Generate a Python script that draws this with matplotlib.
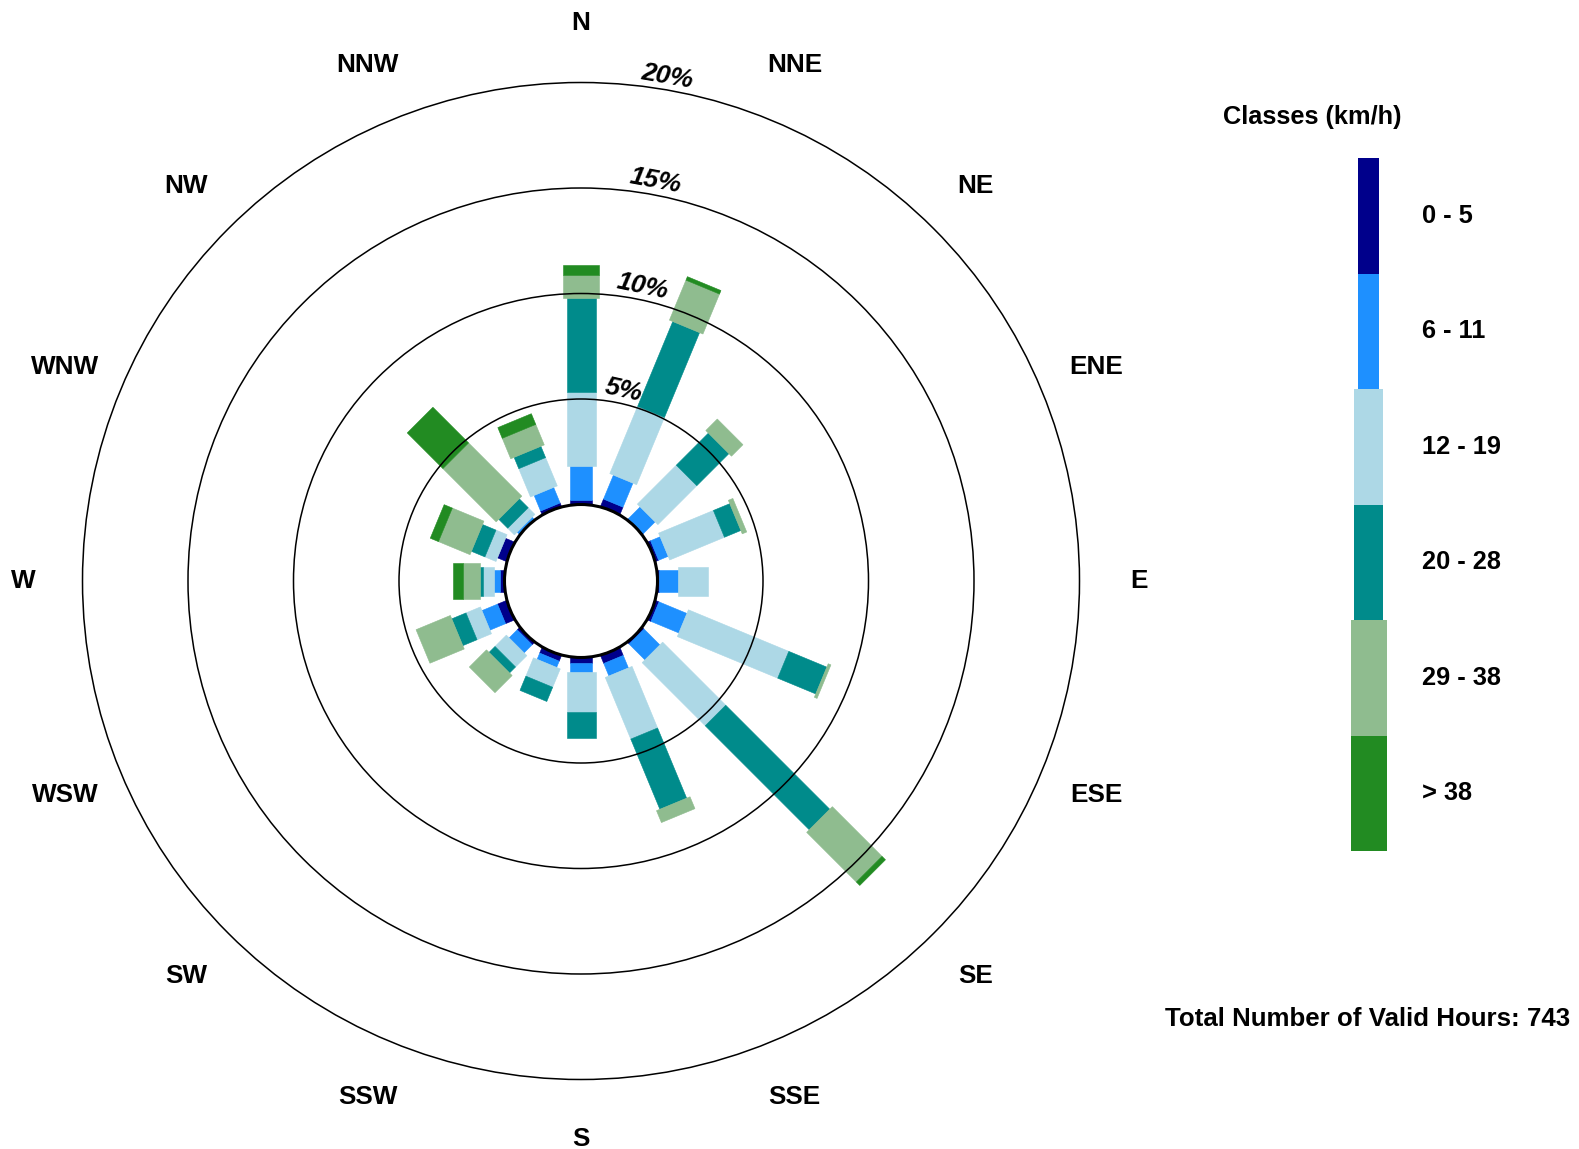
import numpy as np
import matplotlib
matplotlib.use("Agg")
import matplotlib.pyplot as plt
from matplotlib.patches import Polygon, Circle

plt.rcParams['font.family'] = ['Liberation Sans', 'DejaVu Sans']

# wind directions (clockwise from north)
directions = ['N', 'NNE', 'NE', 'ENE', 'E', 'ESE', 'SE', 'SSE',
              'S', 'SSW', 'SW', 'WSW', 'W', 'WNW', 'NW', 'NNW']

# frequency (%) per speed class
speed_0_5 = [0.20, 0.37, 0.05, 0.15, 0.09, 0.17, 0.10, 0.40,
             0.27, 0.28, 0.15, 0.45, 0.21, 0.45, 0.00, 0.17]
speed_6_11 = [1.62, 1.23, 0.79, 0.49, 0.87, 1.43, 1.06, 0.64,
              0.40, 0.32, 0.54, 0.80, 0.29, 0.00, 0.15, 0.80]
speed_12_19 = [3.53, 3.45, 2.61, 2.81, 1.42, 5.15, 4.23, 3.16,
               1.90, 0.94, 0.76, 0.74, 0.50, 0.57, 0.45, 1.45]
speed_20_28 = [4.42, 4.35, 2.15, 0.84, 0.00, 1.95, 6.97, 3.60,
               1.26, 0.73, 0.40, 0.73, 0.16, 0.69, 0.60, 0.58]
speed_29_38 = [1.11, 2.05, 0.77, 0.23, 0.00, 0.14, 3.33, 0.61,
               0.00, 0.00, 1.15, 1.76, 0.82, 1.62, 3.57, 1.05]
speed_gt_38 = [0.47, 0.18, 0.00, 0.00, 0.00, 0.00, 0.23, 0.00,
               0.00, 0.00, 0.00, 0.00, 0.47, 0.42, 2.39, 0.55]

class_labels = ['0 - 5', '6 - 11', '12 - 19', '20 - 28', '29 - 38', '> 38']
class_colors = ['#00008B', '#1E90FF', '#ADD8E6', '#008B8B', '#8FBC8F', '#228B22']
ring_values = [5, 10, 15, 20]
valid_hours = 743

speeds = np.array([speed_0_5, speed_6_11, speed_12_19,
                   speed_20_28, speed_29_38, speed_gt_38])
angles = np.arange(len(directions)) * 22.5

# layout (pixels of the 1579x1149 figure)
W, H = 1579, 1149
px = 21.1            # pixels per percent
cx, cy = 581, 581    # centre of the rose
r0 = 76.5 / px       # radius of the empty centre
bar_w = [21.1, 21.1, 29, 29, 36.3, 36.3]   # bar widths in pixels per class

fig = plt.figure(figsize=(W / 100, H / 100), dpi=100)
L = 27.5
ax = fig.add_axes([(cx - L * px) / W, (H - cy - L * px) / H,
                   2 * L * px / W, 2 * L * px / H])
ax.set_xlim(-L, L)
ax.set_ylim(-L, L)
ax.axis('off')


def bar_polygon(theta, r1, r2, width):
    t = np.radians(theta)
    hw = width / 2
    pts = [(r1, -hw), (r2, -hw), (r2, hw), (r1, hw)]
    return [(u * np.sin(t) + v * np.cos(t), u * np.cos(t) - v * np.sin(t))
            for u, v in pts]


for d, theta in enumerate(angles):
    start = r0
    for k in range(len(class_labels)):
        val = speeds[k, d]
        if val <= 0:
            continue
        r1 = start if k > 0 else r0 - 0.6
        r2 = start + val
        ax.add_patch(Polygon(bar_polygon(theta, r1, r2, bar_w[k] / px),
                             closed=True, facecolor=class_colors[k],
                             edgecolor=class_colors[k], lw=0.4, zorder=2))
        start = r2

# rings
for v in ring_values:
    ax.add_patch(Circle((0, 0), r0 + v, fill=False, ec='black', lw=1.1, zorder=3))
ax.add_patch(Circle((0, 0), r0, fc='white', ec='black', lw=2.2, zorder=4))

# ring labels
for v in ring_values:
    lab = f'{v}%'
    R = (r0 + v) * px
    w_txt = 10 + 12.7 * len(lab)
    ang = 7 + np.degrees(0.5 * w_txt / R)
    rr = (R + 13.5) / px
    ax.text(rr * np.sin(np.radians(ang)), rr * np.cos(np.radians(ang)), lab,
            ha='center', va='center', rotation=-ang, rotation_mode='anchor',
            fontsize=18.8, fontweight='bold', fontstyle='italic', zorder=5)

# direction labels
rl = 558 / px
for name, theta in zip(directions, angles):
    t = np.radians(theta)
    ax.text(rl * np.sin(t), rl * np.cos(t), name, ha='center', va='center',
            fontsize=18.8, fontweight='bold', clip_on=False)

# legend column
leg_top, leg_bot = 158.3, 851
leg_x = 1368.7
lax = fig.add_axes([(leg_x - 40) / W, (H - leg_bot) / H, 80 / W,
                    (leg_bot - leg_top) / H])
n = len(class_labels)
lax.bar(np.zeros(n), np.ones(n), bottom=np.arange(n), width=bar_w,
        color=class_colors, align='center')
lax.set_xlim(-40, 40)
lax.set_ylim(n, 0)
lax.axis('off')
for i, lab in enumerate(class_labels):
    lax.text(53, i + 0.5, lab, ha='left', va='center', fontsize=18.3,
             fontweight='bold', clip_on=False)

fig.text(1312 / W, 1 - 117 / H, 'Classes (km/h)', ha='center', va='center',
         fontsize=18.3, fontweight='bold')
fig.text(1570 / W, 1 - 1019 / H, f'Total Number of Valid Hours: {valid_hours}',
         ha='right', va='center', fontsize=18.6, fontweight='bold')

fig.savefig('out.png', dpi=100)
